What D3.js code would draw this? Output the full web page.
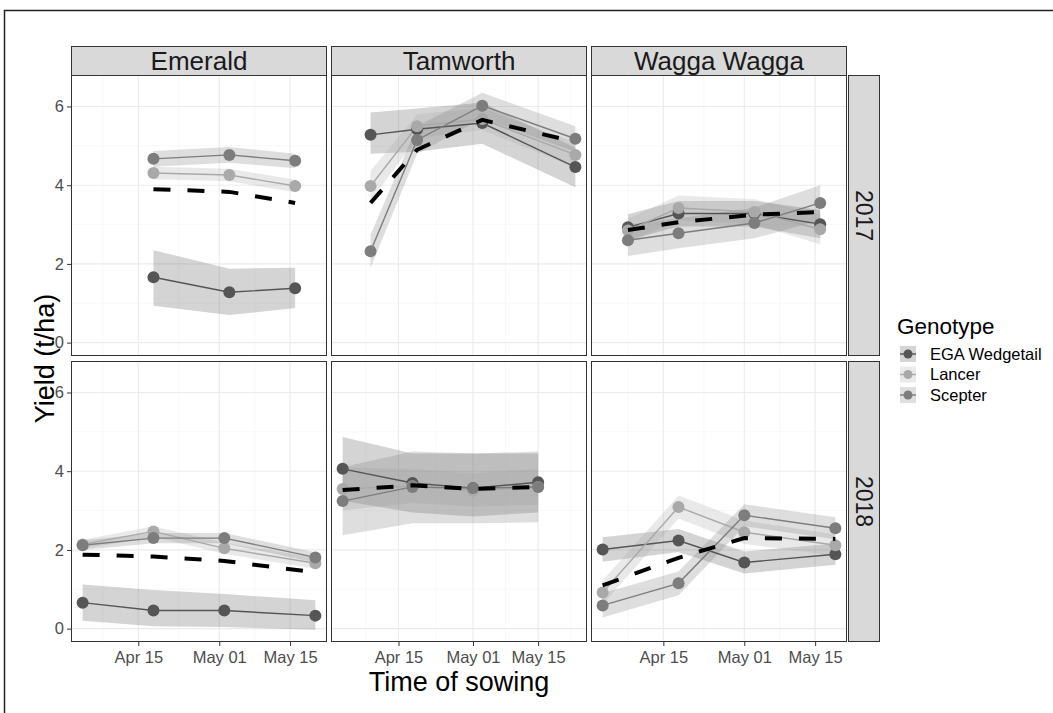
<!DOCTYPE html>
<html>
<head>
<meta charset="utf-8">
<script src="https://cdnjs.cloudflare.com/ajax/libs/d3/7.8.5/d3.min.js"></script>
<style>
body { margin: 0; background: #fff; }
svg { display: block; font-family: "Liberation Sans", Arial, sans-serif; }
</style>
</head>
<body>
<div id="chart"></div>
<script>
/* -----------------------
data
------------------------- */
var sites = ["Emerald", "Tamworth", "Wagga Wagga"];
var years = ["2017", "2018"];
var genotypes = ["EGA Wedgetail", "Lancer", "Scepter"];
var genoColors = ["#555555", "#a9a9a9", "#7d7d7d"];
var xTicks = ["04-15", "05-01", "05-15"];
var xMinor = ["04-08", "04-23", "05-08", "05-22"];
var yTicks = [0, 2, 4, 6];
var yMinor = [1, 3, 5];

// rows: EGA Wedgetail, Lancer, Scepter
var emerald2017Dates = ["04-18", "05-03", "05-16"];
var emerald2017Yield = [[1.66, 1.28, 1.38], [4.31, 4.26, 3.98], [4.67, 4.77, 4.62]];
var emerald2017Lo = [[0.94, 0.70, 0.88], [4.15, 4.10, 3.82], [4.47, 4.57, 4.43]];
var emerald2017Hi = [[2.35, 1.88, 1.90], [4.47, 4.42, 4.14], [4.87, 4.97, 4.80]];
var emerald2017Mean = [3.90, 3.83, 3.55];

var emerald2018Dates = ["04-04", "04-18", "05-02", "05-20"];
var emerald2018Yield = [[0.66, 0.46, 0.46, 0.33], [2.14, 2.47, 2.04, 1.66], [2.12, 2.30, 2.30, 1.81]];
var emerald2018Lo = [[0.20, 0.06, 0.04, -0.03], [2.02, 2.33, 1.90, 1.52], [2.00, 2.17, 2.17, 1.68]];
var emerald2018Hi = [[1.12, 0.98, 0.88, 0.72], [2.26, 2.60, 2.18, 1.80], [2.24, 2.43, 2.43, 1.94]];
var emerald2018Mean = [1.88, 1.83, 1.72, 1.43];

var tamworth2017Dates = ["04-09", "04-19", "05-03", "05-23"];
var tamworth2017Yield = [[5.28, 5.42, 5.58, 4.46], [3.98, 5.50, 5.68, 4.77], [2.32, 5.15, 6.02, 5.18]];
var tamworth2017Lo = [[4.80, 4.85, 5.05, 3.95], [3.60, 5.20, 5.40, 4.45], [1.90, 4.80, 5.70, 4.85]];
var tamworth2017Hi = [[5.85, 5.95, 6.10, 4.95], [4.36, 5.80, 5.96, 5.09], [2.74, 5.50, 6.35, 5.50]];
var tamworth2017Mean = [3.55, 4.90, 5.66, 5.10];

var tamworth2018Dates = ["04-03", "04-18", "05-01", "05-15"];
var tamworth2018Yield = [[4.06, 3.70, 3.57, 3.72], [3.55, 3.62, 3.50, 3.60], [3.24, 3.60, 3.57, 3.60]];
var tamworth2018Lo = [[3.25, 2.95, 2.85, 2.95], [3.00, 3.20, 3.10, 3.15], [2.37, 2.68, 2.68, 2.70]];
var tamworth2018Hi = [[4.87, 4.45, 4.45, 4.45], [4.10, 4.05, 3.95, 4.05], [4.10, 4.50, 4.45, 4.50]];
var tamworth2018Mean = [3.52, 3.64, 3.55, 3.60];

var wagga2017Dates = ["04-08", "04-18", "05-03", "05-16"];
var wagga2017Yield = [[2.93, 3.28, 3.28, 3.01], [2.85, 3.42, 3.32, 2.88], [2.60, 2.78, 3.04, 3.55]];
var wagga2017Lo = [[2.60, 2.95, 2.95, 2.65], [2.55, 3.10, 3.00, 2.50], [2.20, 2.40, 2.65, 3.10]];
var wagga2017Hi = [[3.26, 3.60, 3.60, 3.37], [3.15, 3.74, 3.64, 3.26], [3.00, 3.16, 3.43, 4.00]];
var wagga2017Mean = [2.86, 3.06, 3.25, 3.32];

var wagga2018Dates = ["04-03", "04-18", "05-01", "05-19"];
var wagga2018Yield = [[2.01, 2.24, 1.68, 1.89], [0.92, 3.09, 2.45, 2.12], [0.59, 1.15, 2.88, 2.55]];
var wagga2018Lo = [[1.70, 1.95, 1.40, 1.62], [0.62, 2.80, 2.15, 1.85], [0.28, 0.85, 2.60, 2.27]];
var wagga2018Hi = [[2.32, 2.53, 1.96, 2.16], [1.22, 3.38, 2.75, 2.39], [0.90, 1.45, 3.16, 2.83]];
var wagga2018Mean = [1.10, 1.80, 2.30, 2.28];

var panels = [
    {col: 0, row: 0, dates: emerald2017Dates, yld: emerald2017Yield, lo: emerald2017Lo, hi: emerald2017Hi, mean: emerald2017Mean},
    {col: 0, row: 1, dates: emerald2018Dates, yld: emerald2018Yield, lo: emerald2018Lo, hi: emerald2018Hi, mean: emerald2018Mean},
    {col: 1, row: 0, dates: tamworth2017Dates, yld: tamworth2017Yield, lo: tamworth2017Lo, hi: tamworth2017Hi, mean: tamworth2017Mean},
    {col: 1, row: 1, dates: tamworth2018Dates, yld: tamworth2018Yield, lo: tamworth2018Lo, hi: tamworth2018Hi, mean: tamworth2018Mean},
    {col: 2, row: 0, dates: wagga2017Dates, yld: wagga2017Yield, lo: wagga2017Lo, hi: wagga2017Hi, mean: wagga2017Mean},
    {col: 2, row: 1, dates: wagga2018Dates, yld: wagga2018Yield, lo: wagga2018Lo, hi: wagga2018Hi, mean: wagga2018Mean}
];

/* -----------------------
layout
------------------------- */
var width = 1053, height = 713;
var colX = [71, 331, 591], panelW = 256;
var rowY = [75, 361], panelH = 281;
var stripTop = 46, stripH = 29;
var rStripX = 848, rStripW = 31;

var parseDay = function(s) {
    var p = s.split("-").map(Number);
    return new Date(2018, p[0] - 1, p[1]);
};

var svg = d3.select("#chart")
    .append("svg")
    .attr("width", width)
    .attr("height", height);

svg.append("rect")
    .attr("x", 4.5).attr("y", 10.5)
    .attr("width", 1100).attr("height", 800)
    .attr("fill", "none")
    .attr("stroke", "#222")
    .attr("stroke-width", 1.5);

var y = rowY.map(function(top) {
    return d3.scaleLinear().domain([-0.34, 6.8]).range([top + panelH, top]);
});

var x = sites.map(function(s, c) {
    var all = [];
    panels.filter(function(p) { return p.col === c; })
        .forEach(function(p) { p.dates.forEach(function(d) { all.push(parseDay(d)); }); });
    var ext = d3.extent(all);
    var pad = (ext[1] - ext[0]) * 0.05;
    return d3.scaleTime()
        .domain([new Date(+ext[0] - pad), new Date(+ext[1] + pad)])
        .range([colX[c], colX[c] + panelW]);
});

/* -----------------------
panels
------------------------- */
panels.forEach(function(p) {
    var xs = x[p.col], ys = y[p.row];
    var g = svg.append("g");
    var x0 = colX[p.col], y0 = rowY[p.row];

    g.append("rect")
        .attr("x", x0).attr("y", y0)
        .attr("width", panelW).attr("height", panelH)
        .attr("fill", "#fff");

    // grid
    xMinor.forEach(function(d) {
        var px = xs(parseDay(d));
        if (px > x0 && px < x0 + panelW)
            g.append("line").attr("x1", px).attr("x2", px).attr("y1", y0).attr("y2", y0 + panelH)
                .attr("stroke", "#f3f3f3").attr("stroke-width", 0.6);
    });
    yMinor.forEach(function(v) {
        g.append("line").attr("x1", x0).attr("x2", x0 + panelW).attr("y1", ys(v)).attr("y2", ys(v))
            .attr("stroke", "#f3f3f3").attr("stroke-width", 0.6);
    });
    xTicks.forEach(function(d) {
        var px = xs(parseDay(d));
        g.append("line").attr("x1", px).attr("x2", px).attr("y1", y0).attr("y2", y0 + panelH)
            .attr("stroke", "#ebebeb").attr("stroke-width", 1.1);
    });
    yTicks.forEach(function(v) {
        g.append("line").attr("x1", x0).attr("x2", x0 + panelW).attr("y1", ys(v)).attr("y2", ys(v))
            .attr("stroke", "#ebebeb").attr("stroke-width", 1.1);
    });

    var dts = p.dates.map(parseDay);

    // ribbons
    genotypes.forEach(function(gn, k) {
        var area = d3.area()
            .x(function(d, i) { return xs(dts[i]); })
            .y0(function(d, i) { return ys(p.lo[k][i]); })
            .y1(function(d, i) { return ys(p.hi[k][i]); });
        g.append("path")
            .datum(p.dates)
            .attr("d", area)
            .attr("fill", genoColors[k])
            .attr("fill-opacity", 0.25)
            .attr("stroke", "none");
    });

    // genotype lines + points
    genotypes.forEach(function(gn, k) {
        var line = d3.line()
            .x(function(d, i) { return xs(dts[i]); })
            .y(function(d) { return ys(d); });
        g.append("path")
            .datum(p.yld[k])
            .attr("d", line)
            .attr("fill", "none")
            .attr("stroke", genoColors[k])
            .attr("stroke-width", 1.4);
    });
    genotypes.forEach(function(gn, k) {
        g.selectAll(null)
            .data(p.yld[k])
            .enter().append("circle")
            .attr("cx", function(d, i) { return xs(dts[i]); })
            .attr("cy", function(d) { return ys(d); })
            .attr("r", 6)
            .attr("fill", genoColors[k]);
    });

    // mean dashed line
    var mline = d3.line()
        .x(function(d, i) { return xs(dts[i]); })
        .y(function(d) { return ys(d); });
    g.append("path")
        .datum(p.mean)
        .attr("d", mline)
        .attr("fill", "none")
        .attr("stroke", "#000")
        .attr("stroke-width", 4)
        .attr("stroke-dasharray", "17,17");

    g.append("rect")
        .attr("x", x0 + 0.5).attr("y", y0 + 0.5)
        .attr("width", panelW - 1).attr("height", panelH - 1)
        .attr("fill", "none")
        .attr("stroke", "#333")
        .attr("stroke-width", 1);
});

/* -----------------------
axes
------------------------- */
function styleAxis(sel) {
    sel.select(".domain").remove();
    sel.selectAll(".tick line").attr("stroke", "#333");
    sel.selectAll(".tick text")
        .attr("fill", "#4d4d4d")
        .style("font-size", "16.5px")
        .style("font-family", "'Liberation Sans', Arial, sans-serif");
}

y.forEach(function(ys) {
    svg.append("g")
        .attr("transform", "translate(" + colX[0] + ",0)")
        .call(d3.axisLeft(ys).tickValues(yTicks).tickSize(4).tickPadding(3))
        .call(styleAxis);
});

x.forEach(function(xs) {
    svg.append("g")
        .attr("transform", "translate(0," + (rowY[1] + panelH) + ")")
        .call(d3.axisBottom(xs).tickValues(xTicks.map(parseDay))
            .tickFormat(d3.timeFormat("%b %d")).tickSize(4).tickPadding(5))
        .call(styleAxis);
});

/* -----------------------
strips
------------------------- */
sites.forEach(function(s, c) {
    svg.append("rect")
        .attr("x", colX[c] + 0.5).attr("y", stripTop + 0.5)
        .attr("width", panelW - 1).attr("height", stripH)
        .attr("fill", "#d9d9d9").attr("stroke", "#333");
    svg.append("text")
        .attr("x", colX[c] + panelW / 2)
        .attr("y", stripTop + stripH / 2 + 9)
        .attr("text-anchor", "middle")
        .attr("font-size", "26px")
        .attr("fill", "#1a1a1a")
        .text(s);
});

years.forEach(function(yr, r) {
    svg.append("rect")
        .attr("x", rStripX + 0.5).attr("y", rowY[r] + 0.5)
        .attr("width", rStripW).attr("height", panelH - 1)
        .attr("fill", "#d9d9d9").attr("stroke", "#333");
    var cx = rStripX + rStripW / 2, cy = rowY[r] + panelH / 2;
    svg.append("text")
        .attr("transform", "translate(" + cx + "," + cy + ") rotate(90)")
        .attr("y", 8)
        .attr("text-anchor", "middle")
        .attr("font-size", "23px")
        .attr("fill", "#1a1a1a")
        .text(yr);
});

/* -----------------------
titles
------------------------- */
svg.append("text")
    .attr("transform", "translate(54," + (rowY[0] + (rowY[1] + panelH - rowY[0]) / 2) + ") rotate(-90)")
    .attr("text-anchor", "middle")
    .attr("font-size", "27px")
    .attr("fill", "#000")
    .text("Yield (t/ha)");

svg.append("text")
    .attr("x", colX[0] + (colX[2] + panelW - colX[0]) / 2)
    .attr("y", 691)
    .attr("text-anchor", "middle")
    .attr("font-size", "27px")
    .attr("fill", "#000")
    .text("Time of sowing");

/* -----------------------
legend
------------------------- */
var legend = svg.append("g").attr("transform", "translate(897,334)");
legend.append("text")
    .attr("x", 0).attr("y", 0)
    .attr("font-size", "22.5px")
    .attr("fill", "#000")
    .text("Genotype");

genotypes.forEach(function(gn, k) {
    var ky = 20 + k * 20.5;
    legend.append("rect")
        .attr("x", 3).attr("y", ky - 8)
        .attr("width", 16).attr("height", 16)
        .attr("fill", genoColors[k]).attr("fill-opacity", 0.25);
    legend.append("line")
        .attr("x1", 3).attr("x2", 19).attr("y1", ky).attr("y2", ky)
        .attr("stroke", genoColors[k]).attr("stroke-width", 1.4);
    legend.append("circle")
        .attr("cx", 11).attr("cy", ky).attr("r", 4.5)
        .attr("fill", genoColors[k]);
    legend.append("text")
        .attr("x", 33).attr("y", ky + 5.5)
        .attr("font-size", "16.5px")
        .attr("fill", "#000")
        .text(gn);
});
</script>
</body>
</html>
